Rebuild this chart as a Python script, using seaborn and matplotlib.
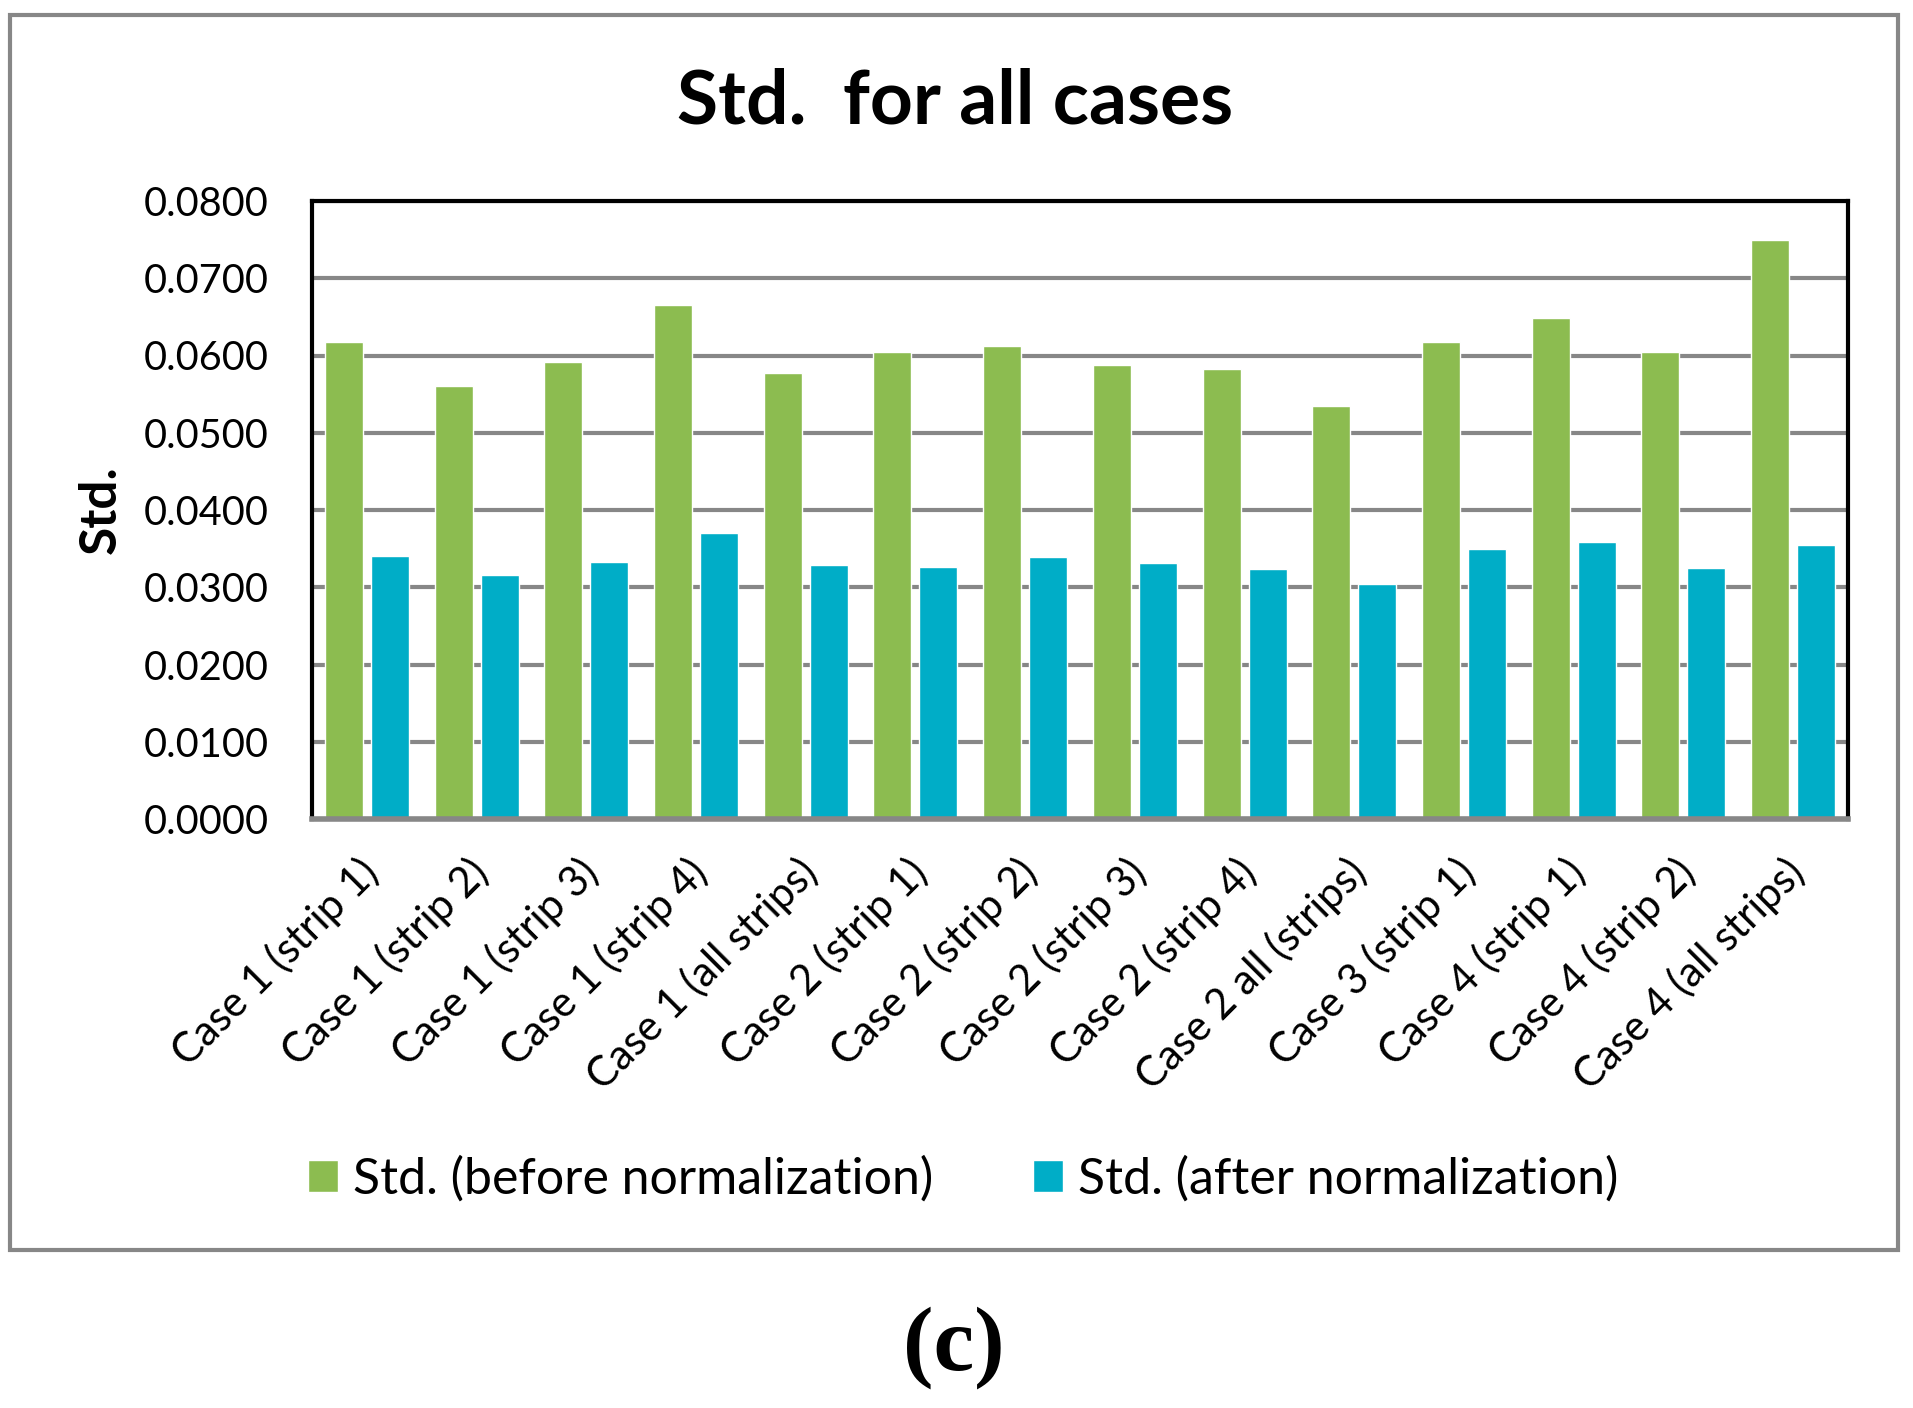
import matplotlib
matplotlib.use("Agg")
import matplotlib.pyplot as plt
import seaborn as sns
import pandas as pd
from matplotlib.patches import Rectangle
from matplotlib.ticker import FuncFormatter
from matplotlib.transforms import ScaledTranslation

categories = [
    "Case 1 (strip 1)", "Case 1 (strip 2)", "Case 1 (strip 3)", "Case 1 (strip 4)",
    "Case 1 (all strips)", "Case 2 (strip 1)", "Case 2 (strip 2)", "Case 2 (strip 3)",
    "Case 2 (strip 4)", "Case 2 all (strips)", "Case 3 (strip 1)", "Case 4 (strip 1)",
    "Case 4 (strip 2)", "Case 4 (all strips)",
]
before_norm = [0.0617, 0.0561, 0.0591, 0.0666, 0.0577, 0.0604, 0.0612,
               0.0588, 0.0582, 0.0534, 0.0617, 0.0649, 0.0604, 0.0749]
after_norm = [0.0341, 0.0316, 0.0333, 0.0370, 0.0329, 0.0326, 0.0339,
              0.0332, 0.0323, 0.0304, 0.0349, 0.0358, 0.0325, 0.0355]
series_names = ["Std. (before normalization)", "Std. (after normalization)"]
yticks = [0.0, 0.01, 0.02, 0.03, 0.04, 0.05, 0.06, 0.07, 0.08]

df = pd.DataFrame({
    "case": categories * 2,
    "std": before_norm + after_norm,
    "series": [series_names[0]] * len(categories) + [series_names[1]] * len(categories),
})

GREEN = "#8CBC50"
BLUE = "#00ADC7"
GRID = "#878787"

sns.set_style("white")
plt.rcParams["font.family"] = ["Lato", "DejaVu Sans"]
plt.rcParams["text.color"] = "black"
plt.rcParams["xtick.color"] = "black"
plt.rcParams["ytick.color"] = "black"
plt.rcParams["axes.labelcolor"] = "black"

fig = plt.figure(figsize=(19.13, 14.08), dpi=100)
ax = fig.add_axes([312 / 1913, 1 - 819 / 1408, (1848 - 312) / 1913, (819 - 201) / 1408])

sns.barplot(data=df, x="case", y="std", hue="series", palette=[GREEN, BLUE],
            width=0.838, gap=0.174, ax=ax, saturation=1, errorbar=None, legend=True)

ax.set_xlim(-0.5, len(categories) - 0.5)
ax.set_ylim(0, 0.08)
ax.set_yticks(yticks)
ax.yaxis.set_major_formatter(FuncFormatter(lambda v, p: f"{v:.4f}"))
ax.yaxis.grid(True, color=GRID, linewidth=3.0)
ax.xaxis.grid(False)
ax.set_axisbelow(True)
ax.tick_params(axis="y", length=0, pad=31, labelsize=28.5, labelcolor="black")
ax.tick_params(axis="x", length=0, pad=10, labelcolor="black")
ax.set_xlabel("")
ax.set_ylabel("")
ax.set_xticks(range(len(categories)))
ax.set_xticklabels(categories, rotation=45, ha="right", va="center",
                   rotation_mode="anchor", fontsize=30)
for lab in ax.get_xticklabels():
    lab.set_transform(lab.get_transform() + ScaledTranslation(0.05, -0.33, fig.dpi_scale_trans))

for side in ["left", "top", "right"]:
    ax.spines[side].set_color("black")
    ax.spines[side].set_linewidth(3)
ax.spines["bottom"].set_color(GRID)
ax.spines["bottom"].set_linewidth(4)

leg = ax.legend(loc="center", bbox_to_anchor=(963 / 1913, 1 - 1179 / 1408),
                bbox_transform=fig.transFigure, ncol=2, frameon=False,
                fontsize=36, handlelength=0.6, handleheight=0.6,
                handletextpad=0.3, columnspacing=2.0)
for t in leg.get_texts():
    t.set_color("black")

fig.text(0.4995, 1 - 102 / 1408, "Std.  for all cases", ha="center", va="center",
         fontsize=54, fontweight="bold", color="black")
fig.text(101 / 1913, 1 - 510 / 1408, "Std.", ha="center", va="center",
         rotation=90, fontsize=37, fontweight="bold", color="black")
fig.text(954 / 1913, 1 - 1348 / 1408, "(c)", ha="center", va="center",
         fontsize=66, fontweight="bold", color="black",
         family=["Liberation Serif", "DejaVu Serif"])

fig.patches.append(Rectangle((10 / 1913, 1 - 1250 / 1408), (1898 - 10) / 1913,
                             (1250 - 15) / 1408, transform=fig.transFigure,
                             fill=False, edgecolor=GRID, linewidth=3))

fig.savefig("out.png", dpi=100)
